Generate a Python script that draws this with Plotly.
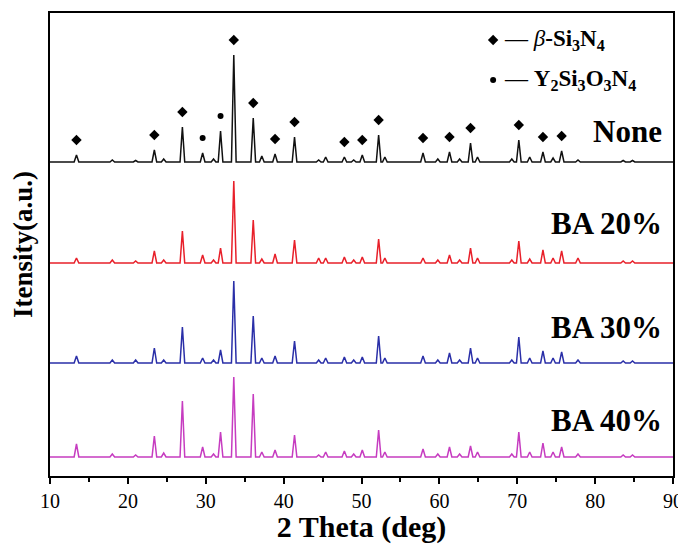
import plotly.graph_objects as go

# ---- data ----
peak_pos = [13.4, 18.0, 21.0, 23.4, 24.6, 27.0, 29.6, 31.0, 31.9, 33.6, 36.1, 37.2, 38.9, 41.4,
            44.5, 45.4, 47.8, 49.0, 50.1, 52.2, 53.0, 57.9, 59.8, 61.3, 62.6, 64.0, 64.9, 69.3,
            70.2, 71.6, 73.3, 74.6, 75.7, 77.8, 83.6, 84.8]
none_h = [7, 2, 1.5, 12, 3, 35, 9, 3, 31, 107, 44, 6, 8, 25,
          2, 5, 5, 2, 7, 27, 5, 9, 3, 10, 3, 19, 5, 3,
          22, 5, 10, 4, 11, 2, 1.5, 1.5]
ba20_h = [5, 3, 2, 12, 3, 32, 8, 3, 15, 82, 43, 4, 9, 23,
          5, 5, 6, 3, 6, 24, 5, 5, 3, 8, 3, 15, 5, 3,
          22, 4, 13, 5, 12, 5, 2, 2]
ba30_h = [7, 3, 3, 15, 3, 36, 5, 3, 13, 82, 47, 5, 7, 22,
          3, 5, 6, 3, 6, 27, 5, 7, 3, 10, 3, 15, 5, 3,
          26, 5, 12, 5, 11, 3, 2, 2]
ba40_h = [13, 3, 2, 21, 4, 56, 10, 3, 25, 80, 63, 5, 7, 22,
          2, 5, 6, 3, 7, 27, 5, 8, 3, 10, 3, 11, 5, 3,
          25, 5, 14, 5, 10, 3, 2, 2]

series_names = ["None", "BA 20%", "BA 30%", "BA 40%"]
series_heights = [none_h, ba20_h, ba30_h, ba40_h]
series_offsets = [314, 213, 113, 19]
series_colors = ["#111111", "#e8202a", "#2a2fa8", "#c63cc0"]
label_y = [345, 253, 149, 56]

beta_pos = [13.4, 23.4, 27.0, 33.6, 36.1, 38.9, 41.4, 47.8, 50.1, 52.2, 57.9, 61.3, 64.0, 70.2, 73.3, 75.7]
yso_pos = [29.6, 31.9]

FONT = "Liberation Serif, Times New Roman, serif"
HW = 0.3  # half width of peaks in degrees


def pattern(heights, offset):
    xs, ys = [10.0], [offset]
    for p, h in sorted(zip(peak_pos, heights)):
        xs += [p - HW, p, p + HW]
        ys += [offset, offset + h, offset]
    xs.append(90.0)
    ys.append(offset)
    return xs, ys


fig = go.Figure()
for name, hts, off, col in zip(series_names, series_heights, series_offsets, series_colors):
    xs, ys = pattern(hts, off)
    fig.add_trace(go.Scatter(x=xs, y=ys, mode="lines", line=dict(color=col, width=1.5),
                             name=name, hoverinfo="skip"))

hmap = dict(zip(peak_pos, none_h))
gap = 15
fig.add_trace(go.Scatter(x=beta_pos, y=[series_offsets[0] + hmap[p] + gap for p in beta_pos],
                         mode="markers", marker=dict(symbol="diamond", size=8, color="black"),
                         hoverinfo="skip"))
fig.add_trace(go.Scatter(x=yso_pos, y=[series_offsets[0] + hmap[p] + gap for p in yso_pos],
                         mode="markers", marker=dict(symbol="circle", size=6, color="black"),
                         hoverinfo="skip"))
# legend symbols
fig.add_trace(go.Scatter(x=[66.9], y=[436], mode="markers",
                         marker=dict(symbol="diamond", size=8, color="black"), hoverinfo="skip"))
fig.add_trace(go.Scatter(x=[66.9], y=[396], mode="markers",
                         marker=dict(symbol="circle", size=6, color="black"), hoverinfo="skip"))

ann = []
for name, ly in zip(series_names, label_y):
    ann.append(dict(x=88.8, y=ly, xref="x", yref="y", text="<b>%s</b>" % name, showarrow=False,
                    xanchor="right", yanchor="middle", font=dict(family=FONT, size=31, color="black")))
ann.append(dict(x=68.0, y=436, xref="x", yref="y", showarrow=False, xanchor="left", yanchor="middle",
                text="— <i>β</i><b>-Si<sub>3</sub>N<sub>4</sub></b>",
                font=dict(family=FONT, size=23, color="black")))
ann.append(dict(x=68.0, y=396, xref="x", yref="y", showarrow=False, xanchor="left", yanchor="middle",
                text="— <b>Y<sub>2</sub>Si<sub>3</sub>O<sub>3</sub>N<sub>4</sub></b>",
                font=dict(family=FONT, size=23, color="black")))

# the page body has an 8px default margin, so the figure is made 8px smaller
fig.update_layout(
    width=678, height=536,
    margin=dict(l=42, r=13, t=5, b=68),
    paper_bgcolor="white", plot_bgcolor="white",
    showlegend=False,
    annotations=ann,
    font=dict(family=FONT, color="black"),
    xaxis=dict(range=[10, 90], dtick=10, tick0=10, showgrid=False, zeroline=False, automargin=False,
               showline=True, linecolor="black", linewidth=2, mirror=True,
               ticks="outside", ticklen=6, tickwidth=2, tickcolor="black",
               minor=dict(dtick=5, tick0=10, ticks="outside", ticklen=4, tickwidth=2, tickcolor="black"),
               tickfont=dict(family=FONT, size=20, color="black"),
               title=dict(text="<b>2 Theta (deg)</b>", font=dict(family=FONT, size=30, color="black"),
                          standoff=1)),
    yaxis=dict(range=[0, 463], showgrid=False, zeroline=False, showticklabels=False, automargin=False,
               showline=True, linecolor="black", linewidth=2, mirror=True, ticks="",
               title=dict(text="<b>Itensity(a.u.)</b>", font=dict(family=FONT, size=27, color="black"),
                          standoff=8)),
)

fig.write_html("out.html")
